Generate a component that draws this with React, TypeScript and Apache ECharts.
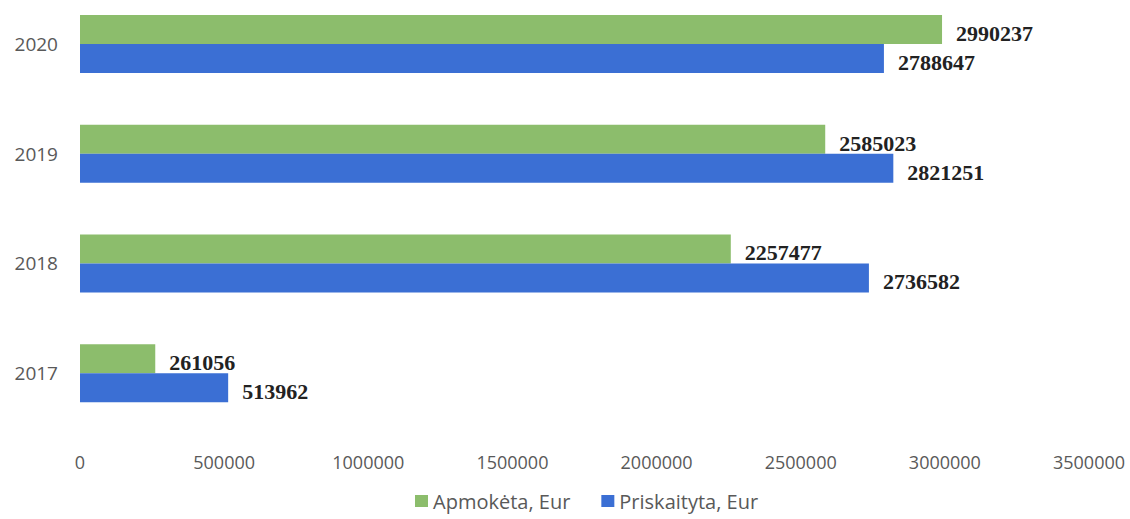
import React, { useEffect, useRef } from "react";
import * as echarts from "echarts";

const years = ["2017", "2018", "2019", "2020"];
const apmoketa = [261056, 2257477, 2585023, 2990237];
const priskaityta = [513962, 2736582, 2821251, 2788647];
const xTicks = { min: 0, max: 3500000, interval: 500000 };
const seriesNames = ["Apmokėta, Eur", "Priskaityta, Eur"];

export default function App() {
  const ref = useRef<HTMLDivElement>(null);
  useEffect(() => {
    document.body.style.margin = "0";
    if (!ref.current) return;
    const chart = echarts.init(ref.current, undefined, { renderer: "svg" });
    const labelStyle = {
      show: true,
      position: "right" as const,
      distance: 14,
      fontFamily: "Liberation Serif",
      fontWeight: "bold" as const,
      fontSize: 22,
      color: "#222222",
      offset: [0, 4],
    };
    chart.setOption({
      animation: false,
      backgroundColor: "#ffffff",
      grid: { left: 80, right: 41, top: 0, bottom: 91, containLabel: false },
      legend: {
        data: seriesNames,
        bottom: 3,
        left: 410,
        itemWidth: 13,
        itemHeight: 12,
        itemGap: 31,
        icon: "rect",
        textStyle: { fontFamily: "Open Sans", fontSize: 20, color: "#595959" },
      },
      xAxis: {
        type: "value",
        min: xTicks.min,
        max: xTicks.max,
        interval: xTicks.interval,
        splitLine: { show: false },
        axisLine: { show: false },
        axisTick: { show: false },
        axisLabel: {
          margin: 25,
          fontFamily: "Open Sans",
          fontSize: 18,
          color: "#595959",
          formatter: (v: number) => String(v),
        },
      },
      yAxis: {
        type: "category",
        data: years,
        axisLine: { show: false },
        axisTick: { show: false },
        axisLabel: {
          margin: 22,
          fontFamily: "Open Sans",
          fontSize: 19,
          color: "#595959",
        },
      },
      series: [
        {
          name: seriesNames[0],
          type: "bar",
          data: apmoketa,
          barWidth: 29,
          barGap: "0%",
          itemStyle: { color: "#8cbd6c" },
          label: labelStyle,
        },
        {
          name: seriesNames[1],
          type: "bar",
          data: priskaityta,
          barWidth: 29,
          barGap: "0%",
          itemStyle: { color: "#3b6fd4" },
          label: labelStyle,
        },
      ],
    });
    return () => chart.dispose();
  }, []);
  return (
    <div
      ref={ref}
      style={{ width: 1130, height: 530, marginTop: -11 }}
    />
  );
}
